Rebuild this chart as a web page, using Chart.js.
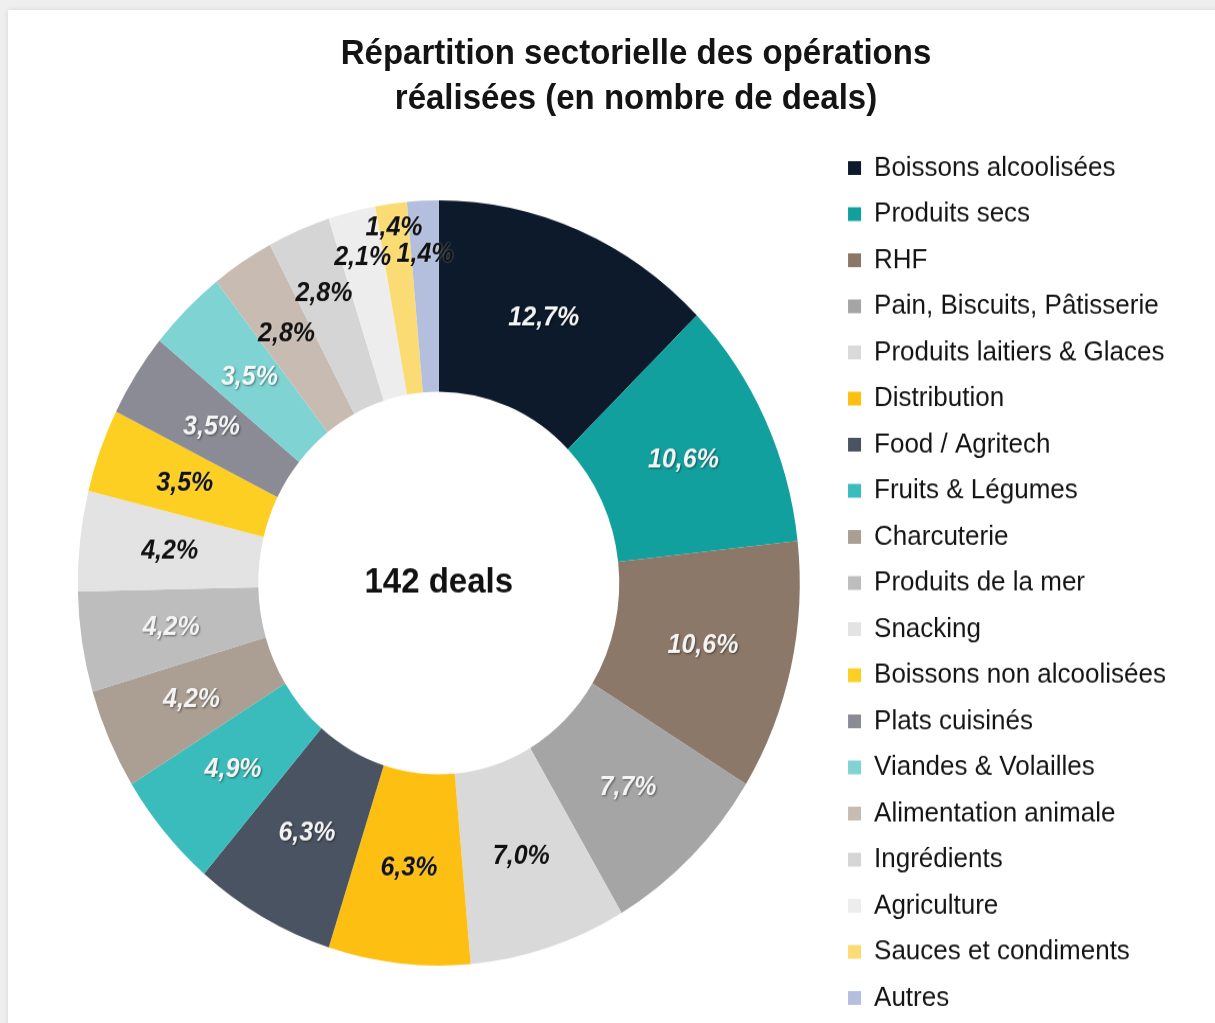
<!DOCTYPE html>
<html lang="fr">
<head>
<meta charset="utf-8">
<script src="https://cdn.jsdelivr.net/npm/chart.js@4.4.1/dist/chart.umd.min.js"></script>
<style>
  html, body { margin: 0; padding: 0; width: 1215px; height: 1023px; overflow: hidden; background: #efefef; }
  #card { position: absolute; left: 8px; top: 10px; width: 1215px; height: 1030px; background: #ffffff; box-shadow: 0 0 6px rgba(0,0,0,0.10); }
  #wrap { position: absolute; left: 0; top: 0; width: 1215px; height: 1000px; transform: scaleY(1.06); transform-origin: 0 0; }
  #title { position: absolute; left: 336px; width: 600px; top: 28px; text-align: center;
           font-family: "Liberation Sans", Arial, sans-serif; font-weight: bold; font-size: 33px;
           line-height: 42.5px; color: #141414; margin: 0; }
  canvas { position: absolute; left: 0; top: 0; }
</style>
</head>
<body>
<div id="card"></div>
<div id="wrap">
  <h1 id="title">Répartition sectorielle des opérations<br>réalisées (en nombre de deals)</h1>
  <canvas id="c" width="1215" height="1000"></canvas>
</div>
<script>
// ---- data ----
const sectors = [
  "Boissons alcoolisées", "Produits secs", "RHF", "Pain, Biscuits, Pâtisserie",
  "Produits laitiers & Glaces", "Distribution", "Food / Agritech", "Fruits & Légumes",
  "Charcuterie", "Produits de la mer", "Snacking", "Boissons non alcoolisées",
  "Plats cuisinés", "Viandes & Volailles", "Alimentation animale", "Ingrédients",
  "Agriculture", "Sauces et condiments", "Autres"
];
const deals = [18, 15, 15, 11, 10, 9, 9, 7, 6, 6, 6, 5, 5, 5, 4, 4, 3, 2, 2];
const totalDeals = 142;
const centerLabel = "142 deals";

// ---- styles ----
const sliceColors = [
  "#0c1a2b", "#12a09f", "#8c7868", "#a5a5a5", "#d9d9d9", "#fcbf12", "#4a5361",
  "#3bbcbc", "#ab9e93", "#bdbdbd", "#e3e3e3", "#fdcf22", "#8a8b95", "#80d3d3",
  "#c8bcb2", "#d5d5d5", "#ededed", "#fbdc74", "#b3bfdd"
];
const labelColors = [
  "#f4f4f4", "#f4f4f4", "#f4f4f4", "#f4f4f4", "#111111", "#111111", "#f4f4f4",
  "#f4f4f4", "#f4f4f4", "#f4f4f4", "#111111", "#111111", "#f4f4f4", "#f0fafa",
  "#111111", "#111111", "#111111", "#111111", "#111111"
];
// radial position of each label inside the ring (0 = inner edge, 1 = outer edge)
const labelRing = [0.5,0.5,0.5,0.5,0.5,0.5,0.5,0.5,0.5,0.5,0.5,0.5,0.5,0.5,0.55,0.64,0.75,0.87,0.72];

const FONT = '"Liberation Sans", Arial, sans-serif';

const sliceLabels = {
  id: 'sliceLabels',
  afterDatasetsDraw(chart) {
    const ctx = chart.ctx;
    const meta = chart.getDatasetMeta(0);
    const values = chart.data.datasets[0].data;
    ctx.save();
    ctx.font = 'italic bold 25px ' + FONT;
    ctx.textAlign = 'center';
    ctx.textBaseline = 'middle';
    meta.data.forEach((arc, i) => {
      const p = arc.getProps(['x','y','startAngle','endAngle','innerRadius','outerRadius'], true);
      const mid = (p.startAngle + p.endAngle) / 2;
      const r = p.innerRadius + labelRing[i] * (p.outerRadius - p.innerRadius);
      const tx = p.x + Math.cos(mid) * r;
      const ty = p.y + Math.sin(mid) * r;
      const txt = (values[i] / totalDeals * 100).toFixed(1).replace('.', ',') + '%';
      if (labelColors[i] !== '#111111') {
        ctx.shadowColor = 'rgba(0,0,0,0.45)';
        ctx.shadowBlur = 2; ctx.shadowOffsetX = 1; ctx.shadowOffsetY = 1;
      } else {
        ctx.shadowColor = 'rgba(255,255,255,0.5)';
        ctx.shadowBlur = 2; ctx.shadowOffsetX = 0; ctx.shadowOffsetY = 0;
      }
      ctx.fillStyle = labelColors[i];
      ctx.fillText(txt, tx, ty);
    });
    ctx.restore();
  }
};

const centerText = {
  id: 'centerText',
  afterDatasetsDraw(chart) {
    const arc = chart.getDatasetMeta(0).data[0];
    const ctx = chart.ctx;
    ctx.save();
    ctx.font = 'bold 33px ' + FONT;
    ctx.fillStyle = '#111111';
    ctx.textAlign = 'center';
    ctx.textBaseline = 'middle';
    ctx.fillText(centerLabel, arc.x, arc.y);
    ctx.restore();
  }
};

new Chart(document.getElementById('c'), {
  type: 'doughnut',
  data: {
    labels: sectors,
    datasets: [{
      data: deals,
      backgroundColor: sliceColors,
      borderWidth: 0
    }]
  },
  options: {
    responsive: false,
    animation: false,
    devicePixelRatio: 1,
    radius: 361,
    cutout: '50%',
    layout: { padding: { left: 47, right: 39, top: 103, bottom: 3 } },
    plugins: {
      title: { display: false },
      tooltip: { enabled: false },
      legend: {
        position: 'right',
        align: 'center',
        labels: {
          boxWidth: 13,
          boxHeight: 13,
          padding: 17.5,
          color: '#141414',
          font: { family: FONT, size: 26 }
        }
      }
    }
  },
  plugins: [sliceLabels, centerText]
});
</script>
</body>
</html>
